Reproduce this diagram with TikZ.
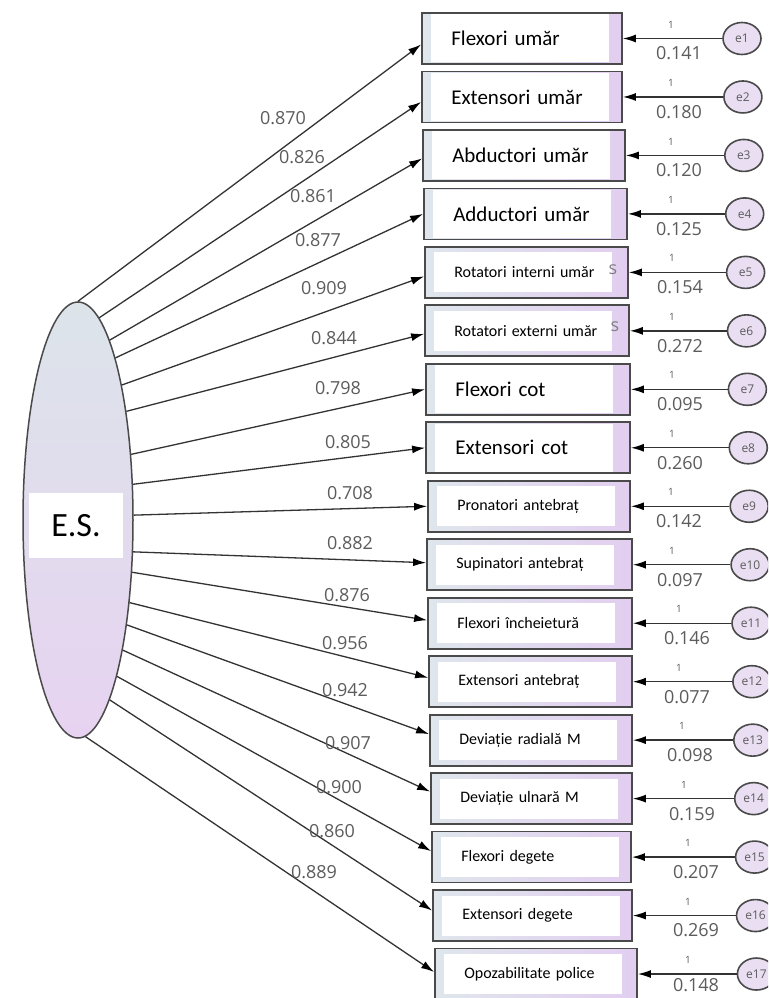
\documentclass[tikz,border=0pt]{standalone}
\usepackage{fontspec}
\setmainfont{Carlito}
\newfontfamily\numfont{Open Sans}
\usetikzlibrary{shapes.geometric,arrows.meta,calc}
\definecolor{edge}{HTML}{4A4A4A}
\definecolor{linegray}{HTML}{333333}
\definecolor{numgray}{HTML}{5C5C5C}
\definecolor{esTop}{HTML}{DCE4EA}
\definecolor{esBot}{HTML}{E7D3F1}
\definecolor{boxL}{HTML}{DFE6EC}
\definecolor{boxR}{HTML}{E2CEF0}
\definecolor{errFill}{HTML}{EADFF2}
\begin{document}
\begin{tikzpicture}[x=1pt,y=-1pt,
  latent/.style={ellipse, draw=edge, line width=1.5pt, top color=esTop, bottom color=esBot,
    minimum width=110pt, minimum height=436pt, inner sep=0pt},
  eslab/.style={fill=white, minimum width=94pt, minimum height=65pt, inner sep=0pt,
    font=\fontsize{34}{34}\selectfont},
  obs/.style={rectangle, draw=edge, line width=1.8pt, left color=boxL, right color=boxR,
    minimum height=51pt, inner sep=0pt},
  lab/.style={anchor=west, fill=white, inner sep=0pt, text width=178pt, align=left},
  errc/.style={ellipse, draw=edge, line width=1.6pt, fill=errFill, minimum width=38pt,
    minimum height=32pt, inner sep=0pt, text=numgray, font=\numfont\fontsize{12}{12}\selectfont},
  num/.style={text=numgray, inner sep=0pt, font=\numfont\fontsize{18}{18}\selectfont},
  one/.style={text=numgray, inner sep=0pt, font=\numfont\fontsize{10}{10}\selectfont},
  conn/.style={draw=linegray, line width=1.3pt, -{Latex[length=13pt,width=8pt,black]}}]

\clip (0,0) rectangle (768,998);
\fill[white] (0,0) rectangle (768,998);

% latent factor
\node[latent] (es) at (78,520) {};
\node[eslab] (esl) at (76,525.5) {E.S.};

% indicators, their error terms and the loadings
\foreach \k/\l/\r/\txt/\fs/\err/\ex/\load/\lx/\ly/\ang/\dy in {
  1/422/622/Flexori umăr/21/0.141/679/0.870/283/118/90.8/6,
  2/422/622/Extensori umăr/21/0.180/679/0.826/302/157/84.5/5,
  3/423/625/Abductori umăr/21/0.120/679/0.861/313/196/80.3/3,
  4/424/627/Adductori umăr/21/0.125/679/0.877/318/240/77.6/0,
  5/425/628/Rotatori interni umăr/16/0.154/680/0.909/324/288/72.9/4,
  6/425/629/Rotatori externi umăr/16/0.272/680/0.844/334/338/66.1/3,
  7/426/630/Flexori cot/21/0.095/680/0.798/338/388/51.1/0,
  8/426/630/Extensori cot/21/0.260/680/0.805/348/442/33.9/0,
  9/428/630/Pronatori antebraț/16/0.142/679/0.708/350/493/5.2/0,
  10/427/632/Supinatori antebraț/16/0.097/680/0.882/350/543/-30.2/-2,
  11/428/632/Flexori încheietură/16/0.146/687/0.876/347/595/-44.5/-3,
  12/429/632/Extensori antebraț/16/0.077/687/0.956/345/643/-58.8/-4,
  13/430/632/Deviație radială M/16/0.098/690/0.942/345/690/-65.2/-6,
  14/431/632/Deviație ulnară M/16/0.159/692/0.907/348/743/-71.9/-7,
  15/432/631/Flexori degete/16/0.207/696/0.900/339/787/-76.5/-6,
  16/433/632/Extensori degete/16/0.269/696/0.860/332/831/-80.3/-5,
  17/435/637/Opozabilitate police/16/0.148/696/0.889/314/872/-88.2/-2}{
  \pgfmathsetmacro\rowy{13+58.47*(\k-1)+25.5}
  \pgfmathsetmacro\boxx{(\l+\r)/2}
  \pgfmathsetmacro\hw{\fs>20 ? 48 : 40}
  \pgfmathsetmacro\vy{min(\rowy+15,985)}
  \node[obs, minimum width={\r-\l}] (b\k) at (\boxx,\rowy) {};
  \node[lab, minimum height=\hw, font=\fontsize{\fs}{\fs}\selectfont]
    (t\k) at ($(b\k.west)+(10,0)$) {\hspace*{20pt}\txt};
  \node[errc] (e\k) at ({742+0.9*(\k-1)},\rowy) {e\k};
  \draw[conn] (e\k) -- (b\k.east);
  \node[one] (o\k) at ({\ex-8},{\rowy-14}) {1};
  \node[num] (v\k) at (\ex,\vy) {\err};
  \draw[conn] (es.\ang) -- ($(b\k.west)+(0,\dy)$);
  \node[num] (p\k) at (\lx,\ly) {\load};
}

% leftover glyphs at the right of two boxes
\node[num, text=gray] (s5) at (613,270) {s};
\node[num, text=gray] (s6) at (615,327) {s};
\end{tikzpicture}
\end{document}
